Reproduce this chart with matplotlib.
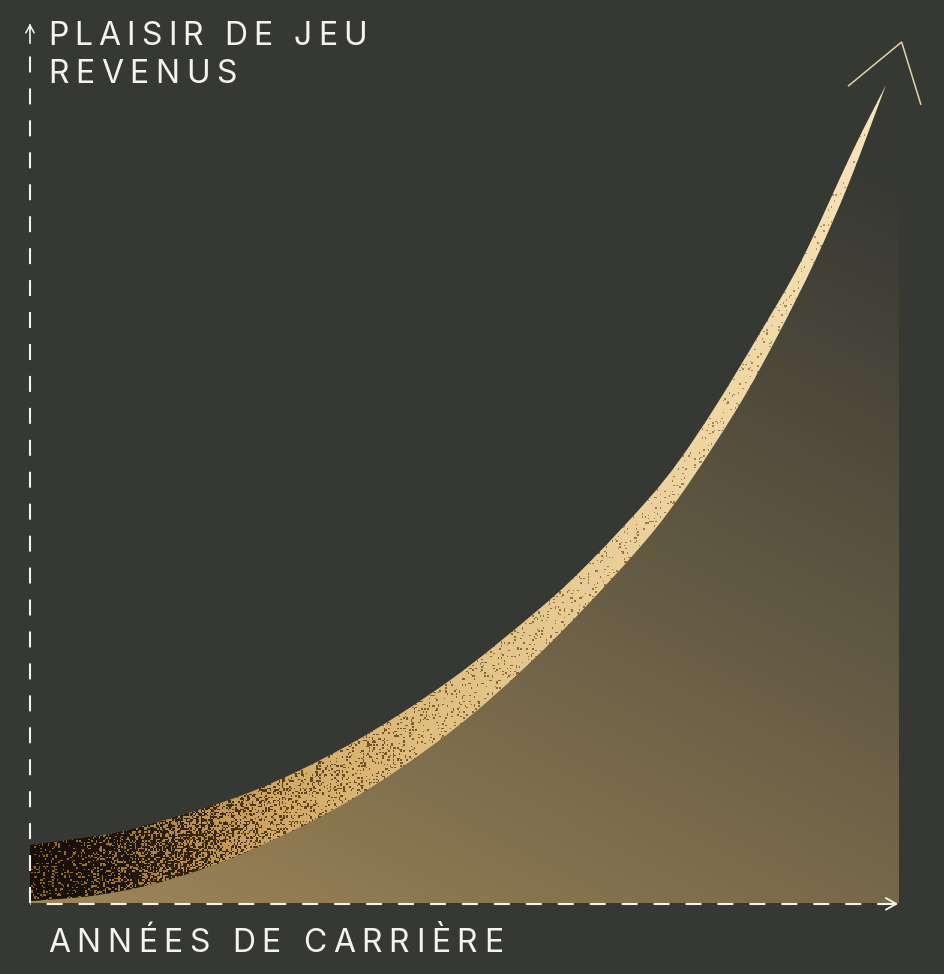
import numpy as np
import matplotlib
matplotlib.use("Agg")
import matplotlib.pyplot as plt
from matplotlib.patches import PathPatch
from matplotlib.path import Path
from matplotlib.colors import to_rgb
from matplotlib.font_manager import FontProperties
from matplotlib.textpath import TextToPath

plt.rcParams["lines.scale_dashes"] = False

W, H = 944, 974
BG = "#363833"
AXIS_COL = "#f2f2ee"
TEXT_COL = "#f4f3ef"

# ribbon edges (career 0-100 on x, value 0-100 on y)
upper_x = [0.0, 8.06, 13.81, 25.32, 36.82, 48.33, 58.69, 64.44, 71.0, 74.8, 79.06, 84.0, 88.84, 94.71, 98.5]
upper_y = [6.63, 7.75, 9.01, 12.66, 18.15, 25.46, 33.69, 39.01, 45.98, 50.7, 57.04, 65.15, 73.55, 86.03, 93.49]
lower_x = [0.0, 8.06, 16.11, 25.32, 36.82, 48.33, 58.69, 69.04, 74.8, 81.47, 85.96, 90.33, 94.25, 98.5]
lower_y = [0.23, 0.95, 2.71, 6.0, 11.71, 19.5, 28.55, 39.35, 46.51, 56.67, 64.7, 73.38, 82.32, 93.49]

y_label_lines = ["PLAISIR DE JEU", "REVENUS"]
x_label = "ANNÉES DE CARRIÈRE"

# colour stops of the gold ribbon along x
rib_stops = [0, 10, 20, 30, 45, 65, 85, 100]
rib_gold = ["#8a6428", "#a27838", "#c0934c", "#d3ab68", "#dfbe80", "#e9cd96", "#f2daa8", "#f9e6c0"]
rib_dark = ["#170f06", "#1d1409", "#34250f", "#5e431c", "#7e5f30", "#947444", "#a8895a", "#bc9c6c"]
rib_frac = [0.12, 0.22, 0.5, 0.78, 0.88, 0.92, 0.95, 0.97]
FILL_GOLD = "#9e8658"


def smooth_codes(xs, ys):
    # Catmull-Rom through the read points, as cubic bezier segments
    p = np.column_stack([xs, ys])
    p = np.vstack([p[0], p, p[-1]])
    verts, codes = [], []
    for i in range(1, len(p) - 2):
        c1 = p[i] + (p[i + 1] - p[i - 1]) / 6
        c2 = p[i + 1] - (p[i + 2] - p[i]) / 6
        verts += [c1, c2, p[i + 1]]
        codes += [Path.CURVE4] * 3
    return verts, codes


fig = plt.figure(figsize=(W / 100, H / 100), dpi=100, facecolor=BG)
ax = fig.add_axes([30 / W, (H - 903) / H, 869 / W, 875 / H])
ax.set_xlim(0, 100)
ax.set_ylim(0, 100)
ax.axis("off")
ax.patch.set_alpha(0)

nx, ny = 580, 584
X, Y = np.meshgrid(np.linspace(0, 100, nx), np.linspace(0, 100, ny))

# --- area under the ribbon: gold fading into the background
t = np.clip(0.38 * X / 100 + 0.75 * Y / 100, 0, 1)[..., None]
fill_img = np.array(to_rgb(FILL_GOLD)) * (1 - t) + np.array(to_rgb(BG)) * t
lv, lc = smooth_codes(lower_x, lower_y)
fill_path = Path([(lower_x[0], lower_y[0])] + lv + [(100, 100), (100, 0), (0, 0), (0, 0)],
                 [Path.MOVETO] + lc + [Path.LINETO] * 3 + [Path.CLOSEPOLY])
fill_patch = PathPatch(fill_path, facecolor="none", edgecolor="none")
ax.add_patch(fill_patch)
im = ax.imshow(fill_img, origin="lower", extent=(0, 100, 0, 100), aspect="auto",
               interpolation="bilinear", zorder=1)
im.set_clip_path(fill_patch)

# --- textured ribbon
I, J = np.meshgrid(np.arange(nx), np.arange(ny))
grain = np.abs(np.modf(np.sin(I * 12.9898 + J * 78.233) * 43758.5453)[0])
gold = np.stack([np.interp(X, rib_stops, [to_rgb(c)[k] for c in rib_gold]) for k in range(3)], -1)
dark = np.stack([np.interp(X, rib_stops, [to_rgb(c)[k] for c in rib_dark]) for k in range(3)], -1)
frac = np.interp(X, rib_stops, rib_frac)
rib_img = np.where((grain < frac)[..., None], gold, dark)
uv, uc = smooth_codes(upper_x, upper_y)
lv_r, lc_r = smooth_codes(lower_x[::-1], lower_y[::-1])
rib_path = Path([(upper_x[0], upper_y[0])] + uv + lv_r + [(0, 0)],
                [Path.MOVETO] + uc + lc_r + [Path.CLOSEPOLY])
rib_patch = PathPatch(rib_path, facecolor="none", edgecolor="none")
ax.add_patch(rib_patch)
im2 = ax.imshow(rib_img, origin="lower", extent=(0, 100, 0, 100), aspect="auto",
                interpolation="nearest", zorder=2)
im2.set_clip_path(rib_patch)

# --- open arrow head at the end of the curve
head_x = [94.2, 100.3, 102.5]
head_y = [93.4, 98.4, 91.3]
ax.plot(head_x, head_y, color="#e6d2a8", lw=1.1, clip_on=False, zorder=3,
        solid_joinstyle="miter")

# --- dashed axes with arrows
ax.plot([0, 0], [0, 98.6], color=AXIS_COL, lw=1.5, clip_on=False, zorder=5,
        linestyle=(0, (11.5, 11.5)), dash_capstyle="butt")
ax.plot([0, 99.5], [-0.1, -0.1], color=AXIS_COL, lw=1.5, clip_on=False, zorder=5,
        linestyle=(11, (11.5, 11.5)), dash_capstyle="butt")
ax.plot([0, 0], [98.3, 100.4], color=AXIS_COL, lw=1.2, clip_on=False, zorder=5)
ax.annotate("", xy=(99.9, -0.1), xytext=(99.0, -0.1),
            arrowprops=dict(arrowstyle="->,head_length=0.75,head_width=0.42", lw=1.3,
                            color=AXIS_COL, shrinkA=0, shrinkB=0),
            annotation_clip=False, zorder=5)
ax.annotate("", xy=(0, 100.5), xytext=(0, 99.8),
            arrowprops=dict(arrowstyle="->,head_length=0.55,head_width=0.3", lw=1.1,
                            color=AXIS_COL, shrinkA=0, shrinkB=0),
            annotation_clip=False, zorder=5)

# --- letter-spaced labels
t2p = TextToPath()


def text_w(s, prop):
    w, _, _ = t2p.get_text_width_height_descent(s, prop, ismath=False)
    return w * fig.dpi / 72


def spaced_text(s, x_px, right_px, base_px, size=23, family="Inter"):
    prop = FontProperties(family=family, size=size)
    bars = text_w("||", prop)
    pos = [text_w("|" + s[:i] + "|", prop) - bars for i in range(len(s) + 1)]
    track = (right_px - x_px - pos[-1]) / (len(s) - 1)
    for i, c in enumerate(s):
        fig.text((x_px + pos[i] + i * track) / W, 1 - base_px / H, c, fontproperties=prop,
                 color=TEXT_COL, ha="left", va="baseline")


spaced_text(y_label_lines[0], 48, 367, 45)
spaced_text(y_label_lines[1], 48, 237, 83)
spaced_text(x_label, 48, 503, 952)

fig.savefig("out.png", dpi=100, facecolor=BG)
